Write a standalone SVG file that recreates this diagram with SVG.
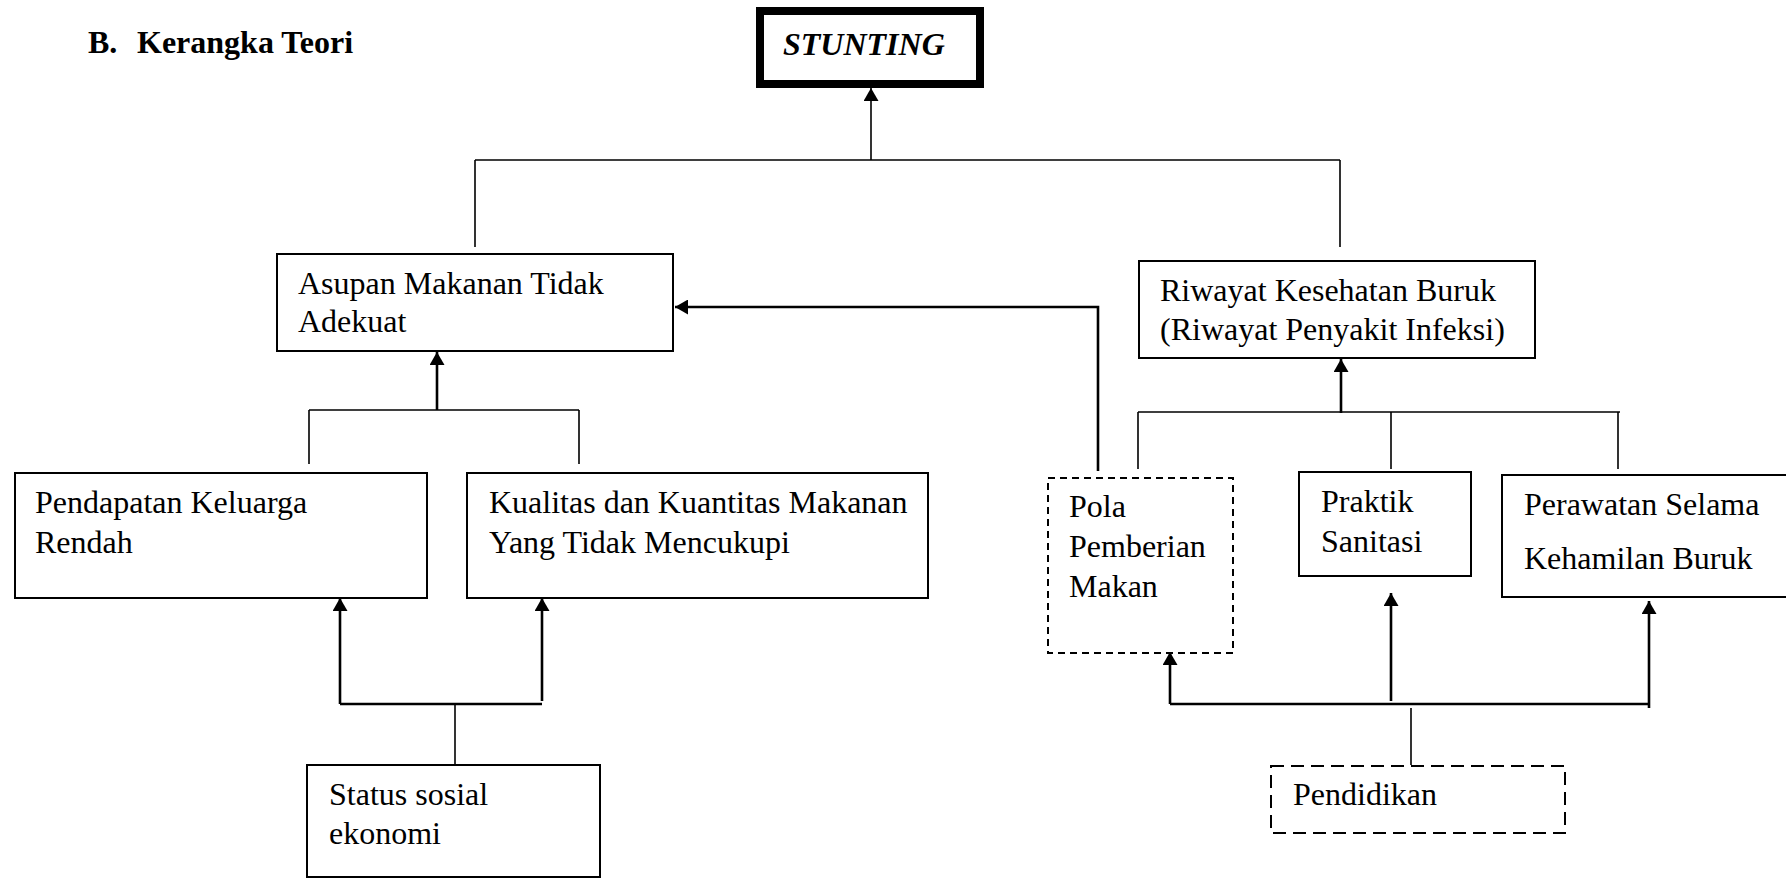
<svg xmlns="http://www.w3.org/2000/svg" width="1786" height="878" viewBox="0 0 1786 878">
<defs>
<style>
.t{font-family:"Liberation Serif","Times New Roman",serif;font-size:32px;fill:#000}
.box{fill:#fff;stroke:#000;stroke-width:2}
.dash1{fill:#fff;stroke:#000;stroke-width:2;stroke-dasharray:7 5}
.dash2{fill:#fff;stroke:#000;stroke-width:2;stroke-dasharray:13 7}
.ln{fill:none;stroke:#000;stroke-width:1.6}
.th{fill:none;stroke:#000;stroke-width:2.6}
.ar{marker-end:url(#ah)}
</style>
<marker id="ah" markerUnits="userSpaceOnUse" markerWidth="14" markerHeight="15" refX="13" refY="7.5" orient="auto">
<path d="M0,0 L13,7.5 L0,15 z" fill="#000"/>
</marker>
</defs>
<rect width="1786" height="878" fill="#fff"/>
<text class="t" x="88" y="53" font-weight="bold">B.</text>
<text class="t" x="137" y="53" font-weight="bold">Kerangka Teori</text>
<g id="connectors">
<path class="ln ar" d="M871,160 V88"/>
<path class="ln" d="M475,160 H1340 M475,160 V247 M1340,160 V247"/>
<path class="th ar" d="M1098,471 V307 H675"/>
<path class="th ar" d="M437,410 V352"/>
<path class="ln" d="M309,410 H579 M309,410 V464 M579,410 V464"/>
<path class="th" d="M340,704 H542"/>
<path class="th ar" d="M340,704 V598"/>
<path class="th ar" d="M542,701 V598"/>
<path class="ln" d="M455,704 V766"/>
<path class="th ar" d="M1341,413 V359"/>
<path class="ln" d="M1138,412 H1620 M1138,412 V469 M1391,412 V469 M1618,412 V469"/>
<path class="th" d="M1170,704 H1650"/>
<path class="th ar" d="M1170,704 V652"/>
<path class="th ar" d="M1391,701 V593"/>
<path class="th ar" d="M1649,708 V601"/>
<path class="ln" d="M1411,708 V765"/>
</g>
<g id="stunting">
<rect x="760" y="11" width="220" height="73" fill="#fff" stroke="#000" stroke-width="8"/>
<text class="t" x="783" y="55" font-weight="bold" font-style="italic">STUNTING</text>
</g>
<g id="asupan">
<rect class="box" x="277" y="254" width="396" height="97"/>
<text class="t" x="298" y="294">Asupan Makanan Tidak</text>
<text class="t" x="298" y="332">Adekuat</text>
</g>
<g id="riwayat">
<rect class="box" x="1139" y="261" width="396" height="97"/>
<text class="t" x="1160" y="301">Riwayat Kesehatan Buruk</text>
<text class="t" x="1160" y="340">(Riwayat Penyakit Infeksi)</text>
</g>
<g id="pendapatan">
<rect class="box" x="15" y="473" width="412" height="125"/>
<text class="t" x="35" y="513">Pendapatan Keluarga</text>
<text class="t" x="35" y="553">Rendah</text>
</g>
<g id="kualitas">
<rect class="box" x="467" y="473" width="461" height="125"/>
<text class="t" x="489" y="513">Kualitas dan Kuantitas Makanan</text>
<text class="t" x="489" y="553">Yang Tidak Mencukupi</text>
</g>
<g id="status">
<rect class="box" x="307" y="765" width="293" height="112"/>
<text class="t" x="329" y="805">Status sosial</text>
<text class="t" x="329" y="844">ekonomi</text>
</g>
<g id="pola">
<rect class="dash1" x="1048" y="478" width="185" height="175"/>
<text class="t" x="1069" y="517">Pola</text>
<text class="t" x="1069" y="557">Pemberian</text>
<text class="t" x="1069" y="597">Makan</text>
</g>
<g id="praktik">
<rect class="box" x="1299" y="472" width="172" height="104"/>
<text class="t" x="1321" y="512">Praktik</text>
<text class="t" x="1321" y="552">Sanitasi</text>
</g>
<g id="perawatan">
<rect class="box" x="1502" y="475" width="300" height="122"/>
<text class="t" x="1524" y="515">Perawatan Selama</text>
<text class="t" x="1524" y="569">Kehamilan Buruk</text>
</g>
<g id="pendidikan">
<rect class="dash2" x="1271" y="766" width="294" height="67"/>
<text class="t" x="1293" y="805">Pendidikan</text>
</g>
</svg>
